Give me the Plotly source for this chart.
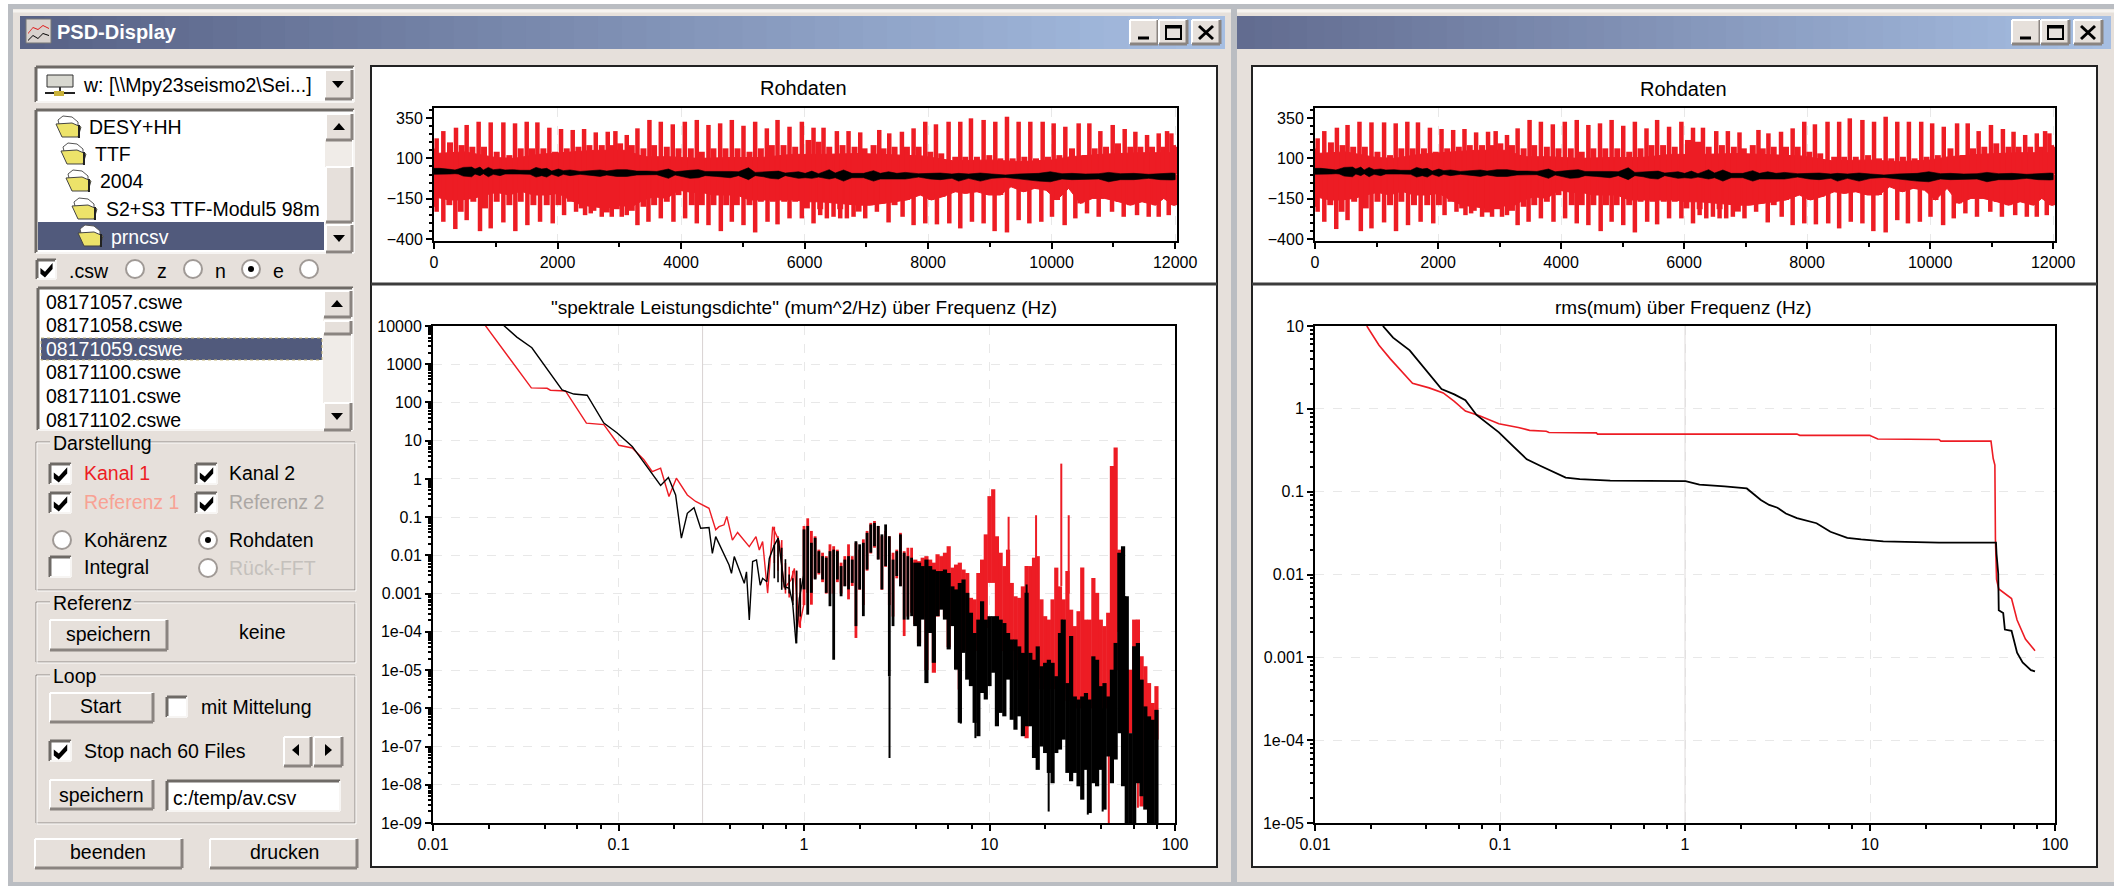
import plotly.graph_objects as go

W, H = 2114, 886
FACE = "#E6E0DB"
RED = "#ED1C24"
FONT = "Liberation Sans"

# ---------- raw signal (samples, µm) ----------
raw_peak_up_x = [43,151,356,529,723,918,1123,1312,1501,1674,1868,2057,2246,2430,2619,2813,2937,3121,3294,3488,3672,3866,4061,4255,4444,4633,4822,5011,5200,5389,5562,5756,5956,6145,6307,6523,6712,6901,7209,7371,7576,7765,7954,8127,8332,8521,8694,8899,9088,9277,9466,9655,9855,10033,10222,10438,10611,10789,10989,11183,11356,11545,11734,11869,11939]
raw_peak_up_v = [224,269,290,307,327,323,323,317,327,323,290,282,276,282,261,265,269,245,286,338,327,311,327,338,307,317,338,302,327,286,338,296,327,290,290,269,269,261,276,255,265,286,327,311,327,327,348,338,327,358,327,327,327,317,296,317,317,269,307,282,265,245,255,269,255]
raw_mid_up_x = [0,259,448,621,810,1015,1220,1404,1587,1771,1960,2149,2338,2516,2716,2894,3013,3202,3391,3564,3769,3958,4158,4336,4525,4719,4914,5108,5292,5470,5659,5848,6064,6226,6399,6615,6809,6971,7117,7279,7457,7657,7846,8035,8213,8440,8602,8791,8991,9169,9369,9558,9747,9941,10125,10330,10535,10697,10881,11075,11275,11437,11626,11815,11966,12000]
raw_mid_up_v = [161,199,182,172,172,141,120,162,162,162,141,162,172,182,182,182,193,182,162,182,172,162,162,141,162,162,162,141,162,182,182,172,214,203,172,182,172,162,182,162,172,172,172,141,131,110,110,110,120,100,100,110,100,110,120,162,120,162,172,193,172,172,172,172,182,172]
raw_solid_up_x = [0,500,1000,1300,1700,2100,2600,3100,3400,3800,4300,4800,5300,5800,6300,6900,7500,7900,8400,9000,9500,10000,10300,10800,11400,12000]
raw_solid_up_v = [130,140,105,100,125,135,150,150,110,110,100,105,105,125,125,130,120,115,85,90,80,90,110,125,135,135]
raw_peak_dn_x = [43,151,345,529,745,918,1123,1317,1512,1717,1922,2106,2300,2446,2538,2716,2878,3040,3121,3294,3472,3672,3877,4066,4255,4444,4644,4822,5011,5200,5400,5562,5756,5956,6145,6253,6361,6469,6577,6685,6793,6982,7171,7360,7587,7765,7954,8143,8343,8521,8710,8899,9077,9277,9466,9639,9833,10006,10211,10384,10573,10762,10978,11167,11383,11572,11734,11896]
raw_peak_dn_v = [-231,-293,-338,-283,-351,-334,-297,-351,-314,-293,-303,-252,-231,-252,-241,-262,-262,-262,-252,-314,-293,-272,-293,-272,-303,-314,-351,-293,-314,-359,-293,-309,-272,-272,-303,-252,-272,-262,-272,-272,-262,-272,-231,-297,-262,-314,-303,-309,-303,-334,-293,-303,-351,-359,-283,-303,-293,-262,-314,-272,-241,-262,-231,-262,-252,-262,-262,-252]
raw_solid_dn_x = [0,248,432,637,826,1015,1220,1404,1609,1825,2014,2203,2392,2581,2797,2959,3202,3391,3564,3769,3958,4174,4336,4525,4730,4903,5108,5292,5486,5670,5848,6037,6253,6577,6874,7063,7263,7457,7657,7873,8051,8235,8440,8602,8791,8980,9169,9342,9547,9725,9909,10087,10276,10465,10665,10859,11086,11275,11464,11680,11815,11966,12000]
raw_solid_dn_v = [-138,-158,-158,-148,-127,-111,-127,-103,-127,-127,-117,-158,-190,-200,-210,-190,-200,-158,-138,-148,-97,-111,-111,-127,-127,-127,-158,-158,-158,-158,-158,-169,-169,-179,-190,-190,-179,-169,-158,-127,-158,-138,-107,-117,-107,-127,-127,-76,-107,-86,-97,-158,-86,-179,-148,-148,-169,-190,-169,-190,-148,-190,-190]
raw_mid_dn_v = [-200,-190,-231,-169,-210,-169,-190,-169,-190,-190,-190,-169,-210,-225,-235,-215,-225,-200,-190,-169,-128,-190,-190,-190,-190,-190,-190,-169,-169,-169,-169,-210,-215,-215,-230,-190,-180,-190,-158,-128,-158,-138,-107,-117,-107,-127,-127,-76,-107,-86,-97,-158,-86,-179,-148,-148,-169,-190,-169,-190,-148,-190,-190]
raw_black_x = [0,97,259,340,394,475,610,664,745,799,880,961,1069,1150,1285,1393,1555,1652,1744,1825,1906,2014,2095,2203,2365,2581,2689,2797,2959,3121,3283,3445,3607,3796,3904,4147,4282,4390,4579,4795,4930,5092,5200,5335,5443,5578,5686,5902,6010,6118,6226,6399,6496,6631,6766,6955,7117,7225,7360,7495,7630,7846,8035,8197,8386,8494,8656,8845,9034,9250,9466,9790,9979,10168,10330,10546,10762,10924,11113,11329,11572,11761,11950,12000]
raw_black_hi = [38,38,32,28,34,44,46,34,46,28,44,30,34,28,30,26,26,44,34,38,21,34,24,28,19,26,28,21,30,30,21,21,19,34,17,26,30,19,21,19,17,42,13,17,17,21,9,17,7,21,5,30,9,28,7,7,24,7,17,7,13,5,7,9,3,7,3,9,3,-3,3,7,17,5,7,3,5,13,5,7,1,7,9,7]
raw_black_lo = [1,1,3,5,3,-10,-14,3,-7,5,-14,1,-7,3,1,3,1,-16,-7,-16,1,-12,1,-7,1,-7,-12,-3,-12,-12,-3,-3,-1,-24,-3,-24,-20,-7,-12,-20,-7,-32,-7,-14,-24,-28,-7,-24,-20,-24,-16,-28,-20,-41,-20,-20,-41,-28,-24,-28,-28,-16,-28,-32,-24,-41,-24,-41,-24,-18,-28,-41,-45,-28,-32,-32,-28,-45,-32,-32,-24,-32,-34,-32]

# ---------- PSD: low-frequency polylines (log10 Hz, log10 µm²/Hz) ----------
psd_red_logf = [-1.719,-1.62,-1.548,-1.470,-1.385,-1.367,-1.286,-1.223,-1.173,-1.079,-1.034,-0.998,-0.926,-0.863,-0.818,-0.773,-0.728,-0.688,-0.629,-0.584,-0.512,-0.476,-0.458,-0.431,-0.416,-0.386,-0.358,-0.295,-0.259,-0.241,-0.223,-0.196,-0.169,-0.133,-0.106,-0.070,-0.052,-0.025,0.002]
psd_red_logv = [4.02,3.38,2.90,2.38,2.37,2.32,2.30,1.85,1.46,1.42,1.11,0.88,0.81,0.50,0.19,0.28,-0.46,0.02,-0.42,-0.59,-0.77,-1.33,-1.25,-1.20,-0.98,-1.60,-1.40,-1.77,-1.51,-1.86,-1.64,-2.99,-1.25,-1.64,-2.86,-2.64,-2.34,-3.87,-3.21]
psd_blk_logf = [-1.62,-1.548,-1.467,-1.385,-1.304,-1.241,-1.169,-1.079,-1.007,-0.926,-0.854,-0.773,-0.731,-0.692,-0.661,-0.629,-0.593,-0.557,-0.512,-0.494,-0.476,-0.404,-0.391,-0.376,-0.322,-0.31,-0.295,-0.277,-0.256,-0.236,-0.223,-0.200,-0.187,-0.160,-0.139,-0.106,-0.079,-0.061,-0.043,-0.025,0.002]
psd_blk_logv = [4.02,3.71,3.43,2.86,2.33,2.22,2.19,1.46,1.20,0.85,0.37,-0.17,0.04,-0.42,-1.55,-0.90,-0.75,-1.29,-1.27,-1.95,-1.51,-2.25,-2.47,-2.03,-2.73,-2.43,-3.69,-2.16,-2.12,-2.78,-2.60,-2.69,-2.08,-1.73,-1.55,-2.82,-2.86,-3.26,-4.30,-3.12,-2.43]
psd_pre_logf = [-0.16,-0.14,-0.12,-0.10,-0.08,-0.06,-0.04,-0.02]
psd_pre_blk_hi = [-1.73,-1.55,-1.8,-2.1,-2.5,-2.6,-2.4,-2.6]
psd_pre_blk_lo = [-2.6,-2.7,-2.9,-2.9,-3.0,-3.3,-4.3,-3.6]
psd_pre_red_hi = [-1.25,-1.5,-1.6,-2.2,-2.3,-2.4,-2.4,-2.6]
psd_pre_red_lo = [-2.2,-2.4,-2.7,-3.0,-3.1,-3.2,-3.7,-3.9]

# ---------- PSD: dense region, one min/max pair per frequency column ----------
psd_col_logf = [0.00,0.02,0.04,0.06,0.08,0.10,0.12,0.14,0.16,0.18,0.20,0.22,0.24,0.26,0.28,0.30,0.32,0.34,0.36,0.38,0.40,0.42,0.44,0.46,0.48,0.50,0.52,0.54,0.56,0.58,0.60,0.62,0.64,0.66,0.68,0.70,0.72,0.74,0.76,0.78,0.80,0.82,0.84,0.86,0.88,0.90,0.92,0.94,0.96,0.98,1.00,1.02,1.04,1.06,1.08,1.10,1.12,1.14,1.16,1.18,1.20,1.22,1.24,1.26,1.28,1.30,1.32,1.34,1.36,1.38,1.40,1.42,1.44,1.46,1.48,1.50,1.52,1.54,1.56,1.58,1.60,1.62,1.64,1.66,1.68,1.70,1.72,1.74,1.76,1.78,1.80,1.82,1.84,1.86,1.88,1.90]
psd_blk_hi = [-1.32,-1.23,-1.67,-1.54,-1.89,-2.02,-2.06,-1.89,-1.85,-1.89,-2.28,-2.11,-2.02,-2.11,-1.63,-1.71,-1.67,-1.41,-1.19,-1.15,-1.23,-1.45,-1.19,-1.50,-2.11,-1.89,-1.45,-1.93,-2.02,-2.06,-2.19,-2.19,-2.28,-2.11,-2.28,-2.37,-2.41,-2.41,-2.37,-2.46,-2.81,-2.89,-2.72,-2.63,-2.98,-3.50,-4.03,-3.68,-3.20,-3.68,-3.59,-3.59,-3.59,-3.68,-3.77,-4.03,-4.20,-4.20,-4.38,-4.55,-2.98,-4.55,-4.73,-4.38,-4.90,-4.81,-4.73,-4.81,-5.16,-4.03,-3.68,-5.34,-4.11,-5.69,-5.77,-5.69,-5.60,-5.77,-4.64,-4.73,-5.42,-5.34,-5.69,-4.99,-4.29,-1.93,-1.76,-3.07,-6.65,-4.38,-4.29,-5.25,-5.95,-6.21,-6.30,-6.04]
psd_blk_lo = [-2.89,-3.55,-2.98,-2.63,-2.46,-2.63,-2.98,-3.33,-4.73,-2.63,-3.07,-2.81,-2.89,-2.72,-3.85,-2.89,-3.59,-2.37,-1.93,-1.76,-2.11,-2.89,-2.28,-5.16,-3.85,-2.54,-2.81,-3.68,-3.68,-3.59,-3.85,-4.38,-3.68,-5.34,-4.03,-4.81,-3.59,-3.42,-3.68,-4.46,-3.85,-4.99,-6.38,-4.55,-5.25,-5.42,-6.38,-6.73,-5.60,-5.77,-5.42,-5.07,-6.47,-6.12,-6.21,-5.25,-6.30,-6.56,-6.21,-6.73,-6.47,-6.47,-7.30,-7.61,-7.00,-7.17,-7.69,-7.96,-7.17,-7.08,-6.82,-7.69,-7.91,-7.69,-8.04,-8.39,-7.61,-8.74,-7.96,-8.04,-7.61,-8.65,-7.26,-7.96,-7.34,-6.65,-8.04,-9,-9,-9,-7.96,-8.30,-8.65,-9,-9,-9]
psd_red_hi = [-1.23,-1.03,-1.36,-1.50,-1.85,-1.93,-2.02,-1.71,-1.76,-1.85,-2.19,-2.02,-1.71,-2.02,-1.67,-1.85,-1.58,-1.36,-1.15,-1.10,-1.23,-1.50,-1.36,-1.50,-1.93,-1.85,-1.41,-1.89,-1.80,-1.80,-2.11,-2.15,-2.06,-2.02,-2.11,-2.19,-1.97,-2.02,-1.93,-1.76,-2.32,-2.24,-2.19,-2.37,-2.46,-3.11,-3.15,-2.46,-2.11,-1.45,-0.45,-0.27,-1.50,-1.93,-2.28,-1.85,-2.72,-3.07,-3.11,-2.81,-2.28,-2.28,-2.06,-2.02,-3.15,-3.59,-3.68,-3.15,-2.32,-2.81,-3.15,-2.41,-3.42,-3.85,-3.46,-2.32,-3.68,-3.68,-2.59,-2.98,-3.68,-3.85,-3.50,0.34,0.82,-1.85,-4.46,-4.99,-4.99,-3.68,-3.68,-4.64,-4.90,-5.34,-5.86,-5.42]
psd_red_lo = [-3.3,-2.98,-3.29,-2.6,-2.5,-2.7,-3.0,-3.0,-3.0,-2.7,-3.0,-2.8,-3.15,-2.8,-4.16,-2.9,-3.3,-2.4,-1.95,-1.8,-2.1,-2.9,-2.3,-3.3,-3.6,-2.6,-2.8,-4.11,-3.6,-3.5,-3.8,-4.3,-3.6,-5.0,-4.0,-5.07,-3.6,-3.4,-3.6,-4.4,-3.8,-4.9,-5.51,-4.5,-4.5,-4.5,-4.5,-4.5,-3.9,-3.9,-2.72,-2.72,-4.0,-4.5,-4.5,-4.5,-4.5,-5,-5,-5,-6.78,-5,-5,-5.2,-5.5,-5.5,-5.5,-5.5,-5.5,-5.5,-5.5,-5.8,-5.8,-6,-6,-6,-6,-6,-6,-6,-6,-6,-6,-5.5,-5,-4,-5.8,-6.65,-6.65,-6.3,-7.87,-8.57,-6.3,-6.82,-6.82,-6.82]
psd_blk_spike_f = [0.461,0.845,0.924,1.319,1.732,1.20,1.389,1.53,1.61]
psd_blk_spike_hi = [-5.16,-4.55,-5.0,-6.0,-3.07,-2.76,-3.68,-6.0,-6.0]
psd_blk_spike_lo = [-7.30,-6.40,-6.78,-8.70,-6.0,-4.5,-5.0,-8.78,-8.70]
psd_red_spike_f = [1.387,1.427,1.251,1.103,1.643,1.80]
psd_red_spike_hi = [0.40,-0.95,-0.95,-0.99,-7.0,-7.87]
psd_red_spike_lo = [-2.8,-3.0,-2.5,-2.8,-9.0,-8.6]
psd_cursor_hz = [0.284]

# ---------- rms ----------
rms_red_logf = [-1.72,-1.654,-1.593,-1.518,-1.473,-1.383,-1.307,-1.247,-1.187,-1.111,-1.006,-0.901,-0.840,-0.750,-0.735,-0.479,-0.473,0.605,0.620,0.997,1.042,1.373,1.383,1.654,1.666,1.675,1.678,1.684,1.696,1.765,1.795,1.840,1.892]
rms_red_logv = [1,0.767,0.603,0.416,0.309,0.253,0.192,0.09,-0.027,-0.083,-0.18,-0.225,-0.26,-0.27,-0.285,-0.29,-0.305,-0.305,-0.32,-0.32,-0.365,-0.37,-0.39,-0.39,-0.60,-0.68,-1.57,-2.06,-2.175,-2.29,-2.55,-2.78,-2.92]
rms_blk_logf = [-1.633,-1.578,-1.488,-1.398,-1.316,-1.247,-1.187,-1.127,-1.006,-0.931,-0.855,-0.780,-0.720,-0.645,-0.569,-0.404,0.003,0.078,0.214,0.334,0.410,0.455,0.5,0.545,0.605,0.711,0.786,0.877,0.952,1.072,1.373,1.681,1.684,1.693,1.696,1.720,1.729,1.765,1.795,1.825,1.870,1.892]
rms_blk_logv = [1,0.86,0.706,0.463,0.239,0.174,0.104,-0.074,-0.284,-0.447,-0.61,-0.69,-0.751,-0.83,-0.849,-0.867,-0.872,-0.914,-0.937,-0.961,-1.10,-1.16,-1.194,-1.264,-1.32,-1.381,-1.484,-1.558,-1.577,-1.60,-1.614,-1.614,-1.754,-1.988,-2.431,-2.464,-2.665,-2.679,-2.945,-3.062,-3.155,-3.169]
rms_cursor_hz = [1.0]

# ---------- ticks and texts ----------
raw_yticks = [350, 100, -150, -400]
raw_xticks = [0, 2000, 4000, 6000, 8000, 10000, 12000]
raw_xlabels = ["0", "2000", "4000", "6000", "8000", "10000", "12000"]
freq_ticks = [0.01, 0.1, 1, 10, 100]
psd_yticks = [1e4,1e3,1e2,1e1,1,0.1,0.01,0.001,1e-4,1e-5,1e-6,1e-7,1e-8,1e-9]
psd_ylabels = ["10000","1000","100","10","1","0.1","0.01","0.001","1e-04","1e-05","1e-06","1e-07","1e-08","1e-09"]
rms_yticks = [10,1,0.1,0.01,0.001,1e-4,1e-5]
rms_ylabels = ["10","1","0.1","0.01","0.001","1e-04","1e-05"]
freq_minor = [m*10**e for e in (-2,-1,0,1) for m in (2,4,6,8)]
file_names = ["08171057.cswe","08171058.cswe","08171059.cswe","08171100.cswe","08171101.cswe","08171102.cswe"]

def px(x): return x / W
def py(y): return 1 - y / H
shapes, notes = [], []

def rect(x0, y0, x1, y1, fill=None, line=None, lw=1, dash=None):
    shapes.append(dict(type="rect", xref="paper", yref="paper", x0=px(x0), x1=px(x1), y0=py(y0), y1=py(y1),
                       fillcolor=fill or "rgba(0,0,0,0)", layer="below",
                       line=dict(color=line or "rgba(0,0,0,0)", width=lw if line else 0, **({"dash": dash} if dash else {}))))
def seg(x0, y0, x1, y1, c, lw=1):
    shapes.append(dict(type="line", xref="paper", yref="paper", x0=px(x0), x1=px(x1), y0=py(y0), y1=py(y1),
                       layer="below", line=dict(color=c, width=lw)))
def poly(pts, fill=None, line=None, lw=1):
    path = "M " + " L ".join(f"{px(a):.5f} {py(b):.5f}" for a, b in pts) + " Z"
    shapes.append(dict(type="path", xref="paper", yref="paper", path=path, layer="below",
                       fillcolor=fill or "rgba(0,0,0,0)", line=dict(color=line or "rgba(0,0,0,0)", width=lw if line else 0)))
def text(x, y, s, color="#000", size=19.5, anchor="left", bold=False, bg=None):
    notes.append(dict(xref="paper", yref="paper", x=px(x), y=py(y), text=f"<b>{s}</b>" if bold else s, showarrow=False,
                      xanchor=anchor, yanchor="middle", font=dict(family=FONT, size=size, color=color),
                      borderpad=0, **({"bgcolor": bg} if bg else {})))
def raised(x0, y0, x1, y1):
    rect(x0, y0, x1, y1, fill=FACE)
    seg(x0, y0, x1, y0, "#FFFFFF", 2); seg(x0, y0, x0, y1, "#FFFFFF", 2)
    seg(x0, y1, x1, y1, "#8A8480", 3); seg(x1, y0, x1, y1, "#8A8480", 3)
def sunken(x0, y0, x1, y1, fill="#FFFFFF"):
    rect(x0, y0, x1, y1, fill=fill)
    seg(x0, y0, x1, y0, "#6E6A66", 3); seg(x0, y0, x0, y1, "#6E6A66", 3)
    seg(x0, y1, x1, y1, "#F7F5F3", 2); seg(x1, y0, x1, y1, "#F7F5F3", 2)
def check(x0, y0, x1, y1, on=True):
    sunken(x0, y0, x1, y1)
    if on:
        w, h = x1 - x0, y1 - y0
        poly([(x0+.18*w, y0+.42*h), (x0+.42*w, y0+.62*h), (x0+.82*w, y0+.16*h), (x0+.82*w, y0+.48*h), (x0+.42*w, y0+.92*h), (x0+.18*w, y0+.72*h)], fill="#000")
def radio(cx, cy, on=False, r=9):
    shapes.append(dict(type="circle", xref="paper", yref="paper", x0=px(cx-r), x1=px(cx+r), y0=py(cy+r), y1=py(cy-r),
                       fillcolor="#FFFFFF", layer="below", line=dict(color="#A09A96", width=2)))
    if on:
        shapes.append(dict(type="circle", xref="paper", yref="paper", x0=px(cx-3), x1=px(cx+3), y0=py(cy+3), y1=py(cy-3),
                           fillcolor="#000", layer="below", line=dict(width=0)))
def arrow(cx, cy, d, s=6):
    pts = {"u": [(cx-s, cy+3), (cx+s, cy+3), (cx, cy-4)], "d": [(cx-s, cy-3), (cx+s, cy-3), (cx, cy+4)],
           "l": [(cx+3, cy-s), (cx+3, cy+s), (cx-4, cy)], "r": [(cx-3, cy-s), (cx-3, cy+s), (cx+4, cy)]}[d]
    poly(pts, fill="#000")
def folder(x, y):
    poly([(x+2, y+4), (x+7, y), (x+16, y+1), (x+22, y+6), (x+22, y+20), (x+6, y+20)], fill="#FFFFFF", line="#555", lw=1)
    poly([(x, y+8), (x+16, y+7), (x+25, y+11), (x+22, y+21), (x+6, y+21)], fill="#EDE36A", line="#444", lw=1)
    seg(x+23, y+9, x+23, y+22, "#222", 2)
def gradient(x0, x1, y0, y1, c0, c1, n=50):
    for i in range(n):
        t = i / (n - 1)
        col = "#%02X%02X%02X" % tuple(round(a + (b - a) * t) for a, b in zip(c0, c1))
        rect(x0 + (x1 - x0) * i / n, y0, x0 + (x1 - x0) * (i + 1) / n + 1, y1, fill=col)
def group(x0, y0, x1, y1, label, lw):
    rect(x0, y0, x1, y1, line="#8E8884", lw=1)
    rect(x0+1, y0+1, x1+1, y1+1, line="#FBFAF9", lw=1)
    rect(x0+14, y0-10, x0+14+lw, y0+10, fill=FACE)
    text(x0+16, y0+1, label)
def winbtns(x):
    raised(x, 20, x+28, 44); seg(x+8, 38, x+19, 38, "#000", 3)
    raised(x+29, 20, x+57, 44); rect(x+36, 26, x+51, 39, line="#000", lw=2); seg(x+36, 27, x+51, 27, "#000", 3)
    raised(x+62, 20, x+90, 44); seg(x+69, 26, x+83, 39, "#000", 3); seg(x+83, 26, x+69, 39, "#000", 3)

# ---------- windows ----------
rect(0, 0, W, H, fill="#FFFFFF")
rect(8, 4, W, H, fill="#BABDC2")
rect(13, 9, 1231, 882, fill=FACE)
rect(1237, 9, W, 882, fill=FACE)
seg(13, 11, 1231, 11, "#F6F3F0", 3); seg(1237, 11, W, 11, "#F6F3F0", 3)
gradient(20, 1224, 16, 49, (88, 98, 134), (166, 190, 226))
gradient(1237, 2110, 16, 49, (98, 108, 144), (166, 190, 226))
winbtns(1130); winbtns(2012)
rect(26, 19, 51, 43, fill="#D8D2CE", line="#777", lw=1)
poly([(28, 33), (33, 27), (38, 29), (43, 25), (49, 28), (49, 29), (43, 26), (38, 30), (33, 28), (28, 34)], fill="#E01818")
poly([(28, 40), (33, 35), (38, 38), (43, 33), (49, 35), (49, 36), (43, 34), (38, 39), (33, 36), (28, 41)], fill="#000")
text(56, 32, "PSD-Display", "#FFFFFF", 20, bold=True)

# panels
for a, b in ((371, 1217), (1252, 2097)):
    rect(a, 66, b, 867, fill="#FFFFFF", line="#222", lw=2)
    seg(a, 284, b, 284, "#3C3C3C", 3)

# left column
sunken(36, 67, 354, 102)
raised(325, 70, 352, 99); arrow(338, 84, "d")
rect(47, 75, 73, 87, fill="#D8D8D0", line="#333"); seg(60, 87, 60, 93, "#333", 2); seg(45, 93, 75, 93, "#222", 2)
rect(54, 91, 64, 96, fill="#C9B23A")
text(82, 85, "w: [\\\\Mpy23seismo2\\Sei...]")

sunken(36, 110, 354, 253)
rect(38, 222, 324, 250, fill="#515A7C")
for xf, yf in ((56, 116), (61, 143), (66, 170), (72, 198), (78, 225)):
    folder(xf, yf)
text(88, 127, "DESY+HH"); text(94, 154, "TTF"); text(99, 181, "2004")
text(105, 209, "S2+S3 TTF-Modul5 98m"); text(110, 237, "prncsv", "#FFFFFF")
rect(325, 114, 352, 252, fill="#F0ECE8")
raised(326, 114, 352, 140); arrow(339, 127, "u")
raised(326, 167, 352, 222)
raised(326, 225, 352, 252); arrow(339, 238, "d")

check(37, 260, 56, 279)
text(68, 271, ".csw"); radio(135, 269); text(156, 271, "z"); radio(193, 269); text(214, 271, "n")
radio(251, 269, True); text(272, 271, "e"); radio(309, 269)

sunken(38, 288, 353, 430)
rect(41, 338, 322, 360, fill="#515A7C", line="#C8B878", lw=1, dash="dot")
for n, yt in zip(file_names, (302, 325, 349, 372, 396, 420)):
    text(45, yt, n, "#FFFFFF" if n == file_names[2] else "#000")
rect(323, 291, 351, 430, fill="#F0ECE8")
raised(324, 291, 351, 317); arrow(337, 304, "u")
raised(324, 321, 351, 334)
raised(324, 403, 351, 430); arrow(337, 416, "d")

group(36, 442, 355, 590, "Darstellung", 100)
check(50, 464, 71, 484); text(83, 473, "Kanal 1", "#ED1C24")
check(196, 464, 217, 484); text(228, 473, "Kanal 2")
check(50, 493, 71, 513); text(83, 502, "Referenz 1", "#F8A294")
check(196, 493, 217, 513); text(228, 502, "Referenz 2", "#ABA7A4")
radio(62, 540); text(83, 540, "Kohärenz")
radio(208, 540, True); text(228, 540, "Rohdaten")
check(50, 557, 71, 577, False); text(83, 567, "Integral")
radio(208, 568); text(228, 568, "Rück-FFT", "#C4C0BC")

group(36, 602, 355, 662, "Referenz", 84)
raised(50, 620, 167, 650); text(108, 634, "speichern", anchor="center")
text(262, 632, "keine", anchor="center")

group(36, 675, 355, 823, "Loop", 50)
raised(50, 693, 153, 722); text(101, 706, "Start", anchor="center")
check(167, 697, 187, 717, False); text(200, 707, "mit Mittelung")
check(50, 741, 71, 761); text(83, 751, "Stop nach 60 Files")
raised(284, 737, 311, 766); arrow(296, 750, "l")
raised(314, 737, 342, 766); arrow(328, 750, "r")
raised(50, 780, 153, 809); text(101, 795, "speichern", anchor="center")
sunken(167, 781, 340, 811); text(172, 798, "c:/temp/av.csv")
raised(35, 839, 182, 868); text(108, 852, "beenden", anchor="center")
raised(210, 839, 357, 868); text(284, 852, "drucken", anchor="center")

# chart titles
TITLE = 19
text(803, 88, "Rohdaten", size=TITLE + 1, anchor="center")
text(804, 308, '"spektrale Leistungsdichte" (mum^2/Hz) über Frequenz (Hz)', size=TITLE, anchor="center")
text(1683, 89, "Rohdaten", size=TITLE + 1, anchor="center")
text(1683, 308, "rms(mum) über Frequenz (Hz)", size=TITLE, anchor="center")

# ---------- traces ----------
def columns(xs, hi, lo):
    X, Y = [], []
    for a, b, c in zip(xs, hi, lo):
        X += [a, a, None]; Y += [b, c, None]
    return X, Y
def hz(seq): return [10 ** v for v in seq]

fig = go.Figure()
def add(x, y, c, w, xa, ya, fill=None):
    fig.add_trace(go.Scatter(x=x, y=y, mode="lines", line=dict(color=c, width=w), fill=fill,
                             fillcolor=c if fill else None, xaxis=xa, yaxis=ya, showlegend=False, hoverinfo="skip",
                             connectgaps=False))

for xa, ya in (("x", "y"), ("x3", "y3")):
    add(raw_solid_up_x + raw_solid_dn_x[::-1], raw_solid_up_v + raw_solid_dn_v[::-1], RED, 1, xa, ya, "toself")
    X, Y = columns(raw_mid_up_x, raw_mid_up_v, [0] * len(raw_mid_up_x)); add(X, Y, RED, 6, xa, ya)
    X, Y = columns(raw_solid_dn_x, [0] * len(raw_solid_dn_x), raw_mid_dn_v); add(X, Y, RED, 6, xa, ya)
    X, Y = columns(raw_peak_up_x, raw_peak_up_v, [0] * len(raw_peak_up_x)); add(X, Y, RED, 4.5, xa, ya)
    X, Y = columns(raw_peak_dn_x, [0] * len(raw_peak_dn_x), raw_peak_dn_v); add(X, Y, RED, 4.5, xa, ya)
    add(raw_black_x + raw_black_x[::-1], raw_black_hi + raw_black_lo[::-1], "#000", 0.6, xa, ya, "toself")

# PSD: the first 30 columns are still separate lines, the rest merge into a solid band
SPLIT = 30
add([psd_cursor_hz[0]] * 2, [1e-9, 1e4], "#D8D2D2", 1, "x2", "y2")
X, Y = columns(hz(psd_pre_logf), hz(psd_pre_red_hi), hz(psd_pre_red_lo)); add(X, Y, RED, 1.6, "x2", "y2")
X, Y = columns(hz(psd_col_logf[:SPLIT]), hz(psd_red_hi[:SPLIT]), hz(psd_red_lo[:SPLIT])); add(X, Y, RED, 2.8, "x2", "y2")
X, Y = columns(hz(psd_col_logf[SPLIT:]), hz(psd_red_hi[SPLIT:]), hz(psd_red_lo[SPLIT:])); add(X, Y, RED, 4.2, "x2", "y2")
X, Y = columns(hz(psd_red_spike_f), hz(psd_red_spike_hi), hz(psd_red_spike_lo)); add(X, Y, RED, 2, "x2", "y2")
add(hz(psd_red_logf), hz(psd_red_logv), RED, 1.4, "x2", "y2")
add(hz(psd_blk_logf), hz(psd_blk_logv), "#000", 1.4, "x2", "y2")
X, Y = columns(hz(psd_pre_logf), hz(psd_pre_blk_hi), hz(psd_pre_blk_lo)); add(X, Y, "#000", 1.6, "x2", "y2")
X, Y = columns(hz(psd_col_logf[:SPLIT]), hz(psd_blk_hi[:SPLIT]), hz(psd_blk_lo[:SPLIT])); add(X, Y, "#000", 2.8, "x2", "y2")
X, Y = columns(hz(psd_col_logf[SPLIT:]), hz(psd_blk_hi[SPLIT:]), hz(psd_blk_lo[SPLIT:])); add(X, Y, "#000", 4.2, "x2", "y2")
X, Y = columns(hz(psd_blk_spike_f), hz(psd_blk_spike_hi), hz(psd_blk_spike_lo)); add(X, Y, "#000", 2, "x2", "y2")

# rms
add([rms_cursor_hz[0]] * 2, [1e-5, 10], "#DEDADA", 1, "x4", "y4")
add(hz(rms_red_logf), hz(rms_red_logv), RED, 1.6, "x4", "y4")
add(hz(rms_blk_logf), hz(rms_blk_logv), "#000", 1.8, "x4", "y4")

# ---------- axes ----------
TICK = dict(family=FONT, size=16, color="#000")
GRID = "#E8E8E8"
def base(**kw):
    d = dict(showline=True, linecolor="#000", linewidth=2, mirror=True, ticks="outside", ticklen=6, tickwidth=2,
             tickcolor="#000", tickfont=TICK, zeroline=False, gridcolor=GRID, griddash="dash", gridwidth=1)
    d.update(kw); return d
def raw_x(a, b, anchor):
    return base(domain=[px(a), px(b)], anchor=anchor, range=[0, 12030], tickmode="array", tickvals=raw_xticks,
                ticktext=raw_xlabels, showgrid=True,
                minor=dict(ticks="outside", ticklen=4, tickwidth=2, tickcolor="#000", tickmode="linear", dtick=1000, tick0=0, showgrid=False))
def raw_y(anchor):
    return base(domain=[py(241), py(108)], anchor=anchor, range=[-412, 412], tickmode="array", tickvals=raw_yticks,
                showgrid=False, minor=dict(ticks="outside", ticklen=3, tickwidth=2, tickcolor="#000", tickmode="linear", dtick=50, tick0=0, showgrid=False))
def freq_x(a, b, anchor):
    return base(domain=[px(a), px(b)], anchor=anchor, type="log", range=[-2, 2], tickmode="array", tickvals=freq_ticks,
                ticktext=["0.01", "0.1", "1", "10", "100"], showgrid=True,
                minor=dict(ticks="outside", ticklen=4, tickwidth=2, tickcolor="#000", tickmode="array", tickvals=freq_minor, showgrid=False))
def log_y(lo, hi, vals, labels, anchor):
    minors = [m * 10.0 ** e for e in range(lo, hi) for m in (2, 3, 4, 5, 6, 7, 8, 9)]
    return base(domain=[py(823), py(326)], anchor=anchor, type="log", range=[lo, hi], tickmode="array", tickvals=vals,
                ticktext=labels, showgrid=True,
                minor=dict(ticks="outside", ticklen=3, tickwidth=2, tickcolor="#000", tickmode="array", tickvals=minors, showgrid=False))

fig.update_layout(
    width=W, height=H, margin=dict(l=0, r=0, t=0, b=0, pad=0, autoexpand=False), autosize=False,
    paper_bgcolor="#FFFFFF", plot_bgcolor="#FFFFFF", showlegend=False,
    shapes=shapes, annotations=notes,
    xaxis=raw_x(434, 1177, "y"), yaxis=raw_y("x"),
    xaxis2=freq_x(433, 1175, "y2"), yaxis2=log_y(-9, 4, psd_yticks, psd_ylabels, "x2"),
    xaxis3=raw_x(1315, 2055, "y3"), yaxis3=raw_y("x3"),
    xaxis4=freq_x(1315, 2055, "y4"), yaxis4=log_y(-5, 1, rms_yticks, rms_ylabels, "x4"),
)
fig.write_html("out.html", config=dict(displayModeBar=False),
               post_script="document.body.style.margin='0';document.body.style.overflow='hidden';")
